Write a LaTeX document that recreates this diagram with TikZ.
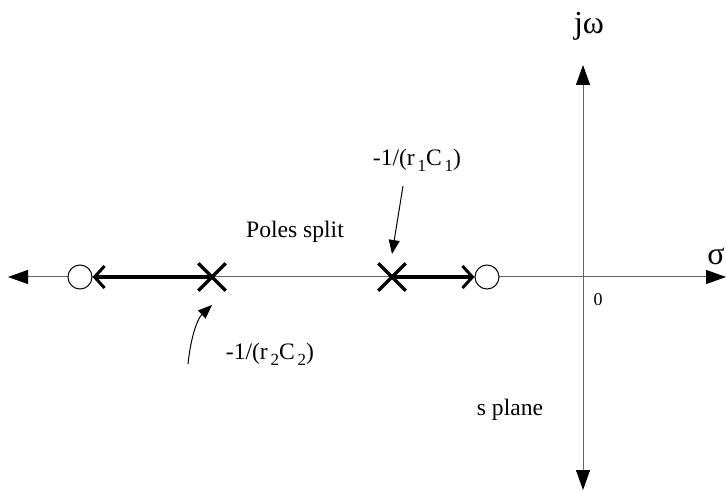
\documentclass[tikz,border=0pt]{standalone}
\usepackage{fontspec}
\setmainfont{Liberation Serif}
\usetikzlibrary{arrows.meta, positioning, calc, shapes.misc}
\definecolor{axisgray}{RGB}{100,100,100}

\begin{document}
\begin{tikzpicture}[x=0.5pt, y=-0.5pt,
    font=\fontsize{11.8}{14}\selectfont,
    axis/.style={axisgray, line width=0.5pt, -{Triangle[length=10pt, width=7pt, color=black, fill=black]}},
    pole/.style={cross out, draw, line width=1.7pt, minimum size=12pt, inner sep=0pt},
    zero/.style={circle, draw, fill=white, line width=0.5pt, minimum size=12pt, inner sep=0pt},
    split/.style={line width=1.7pt, -{Straight Barb[length=5pt, width=11pt, line width=1.5pt]}},
    pointer/.style={line width=0.5pt, -{Triangle[length=7pt, width=5.5pt]}}]
  \useasboundingbox (0,0) rectangle (727,491);
  % axes
  \coordinate (origin) at (583,277);
  \coordinate (west) at (8,277);
  \coordinate (east) at (726,277);
  \coordinate (north) at (583,65);
  \coordinate (south) at (583,490);
  \draw[axis] (origin) -- (west);
  \draw[axis] (origin) -- (east);
  \draw[axis] (origin) -- (north);
  \draw[axis] (origin) -- (south);
  \node (jw) at (589,26) {\fontsize{16}{17}\selectfont jω};
  \node (sigma) at (716,256) {\fontsize{16}{17}\selectfont σ};
  \node (zero0) at (598,300) {\fontsize{9}{10}\selectfont 0};
  % poles and zeros
  \node[zero] (z2) at (80,277) {};
  \node[zero] (z1) at (487,277) {};
  \draw[split] (212,277) -- (z2);
  \draw[split] (392,277) -- (z1);
  \node[pole] (p2) at (212,277) {};
  \node[pole] (p1) at (392,277) {};
  % labels
  \newcommand{\sub}[1]{\raisebox{-0.55ex}{\fontsize{8.5}{9}\selectfont\,#1}}
  \node (split) at (295,232) {Poles split};
  \node (l1) at (417,160) {-1/(r\sub{1}C\sub{1})};
  \node (l2) at (270,354) {-1/(r\sub{2}C\sub{2})};
  \node (splane) at (510,410) {s plane};
  \draw[pointer] (403,186) -- ($(p1)+(0,-23)$);
  \coordinate (tail2) at (188,364);
  \draw[pointer] (tail2) .. controls (191,335) and (198,318) .. ($(p2)+(0,28)$);
\end{tikzpicture}
\end{document}
